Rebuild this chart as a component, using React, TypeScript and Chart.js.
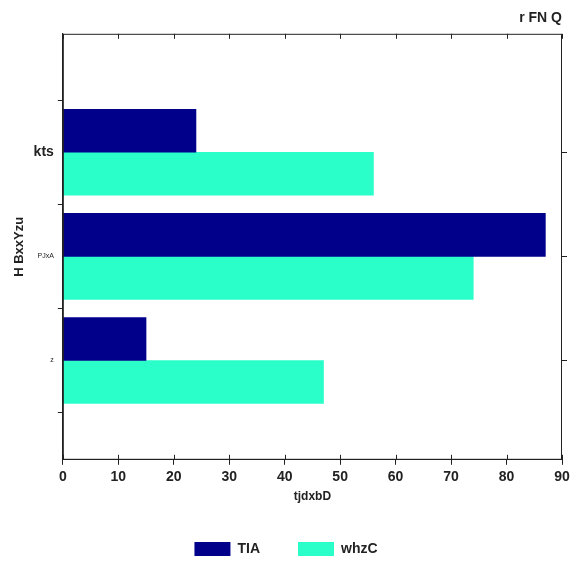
import React, { useEffect, useRef } from "react";
import { Chart, registerables } from "chart.js";
Chart.register(...registerables);

const categories = ["kts", "PJxA", "z"];
const tiaValues = [24, 87, 15];
const whzcValues = [56, 74, 47];
const tickSizes = [14, 7, 7];
const positions = [2, 1, 0];

const FONT = "'Liberation Sans', Arial, sans-serif";

const edgeTicks = {
  id: "edgeTicks",
  afterDraw(chart: any) {
    const { ctx, chartArea: a, scales } = chart;
    ctx.save();
    ctx.strokeStyle = "#222";
    ctx.lineWidth = 1;
    ctx.strokeRect(a.left + 0.5, a.top + 0.5, a.right - a.left - 1, a.bottom - a.top - 1);
    ctx.beginPath();
    scales.x.ticks.forEach((t: any, i: number) => {
      const px = Math.round(scales.x.getPixelForTick(i)) + 0.5;
      ctx.moveTo(px, a.top);
      ctx.lineTo(px, a.top + 5);
      ctx.moveTo(px, a.bottom);
      ctx.lineTo(px, a.bottom - 5);
    });
    scales.y.ticks.forEach((t: any, i: number) => {
      const py = Math.round(scales.y.getPixelForTick(i)) + 0.5;
      ctx.moveTo(a.right, py);
      ctx.lineTo(a.right + 5, py);
    });
    ctx.stroke();
    ctx.restore();
  },
};

export default function App() {
  const ref = useRef<HTMLCanvasElement>(null);
  useEffect(() => {
    document.body.style.margin = "0";
    const catFor = (v: number) => positions.indexOf(Math.round(v));
    const chart = new Chart(ref.current!, {
      type: "bar",
      data: {
        datasets: [
          { label: "TIA", data: categories.map((c, i) => ({ x: tiaValues[i], y: positions[i] })), backgroundColor: "#00008b", barThickness: 43 },
          { label: "whzC", data: categories.map((c, i) => ({ x: whzcValues[i], y: positions[i] })), backgroundColor: "#2affca", barThickness: 43 },
        ],
      },
      plugins: [edgeTicks],
      options: {
        indexAxis: "y",
        animation: false,
        responsive: false,
        layout: { padding: { right: 22, left: 10, bottom: 18 } },
        plugins: {
          title: { display: true, text: "r FN Q", align: "end", color: "#222", font: { family: FONT, size: 14, weight: "bold" }, padding: { top: 10, bottom: 7 } },
          legend: {
            position: "bottom",
            labels: { boxWidth: 36, boxHeight: 14, padding: 38, color: "#222", font: { family: FONT, size: 14, weight: "bold" } },
          },
          tooltip: { enabled: false },
        },
        scales: {
          x: {
            type: "linear",
            min: 0, max: 90,
            ticks: { stepSize: 10, color: "#222", font: { family: FONT, size: 14, weight: "bold" }, padding: 4 },
            grid: { drawOnChartArea: false, tickLength: 5, tickColor: "#222" },
            border: { color: "#222" },
            title: { display: true, text: "tjdxbD", color: "#222", font: { family: FONT, size: 12, weight: "bold" }, padding: 0 },
          },
          y: {
            type: "linear",
            min: -0.272,
            max: 2.456,
            afterBuildTicks: (s: any) => { s.ticks = positions.slice().reverse().map((v) => ({ value: v })); },
            ticks: {
              color: "#222",
              callback: (v: any) => categories[catFor(Number(v))],
              font: (c: any) => {
                const k = catFor(c.tick ? c.tick.value : 0);
                return { family: FONT, size: tickSizes[k] ?? 7, weight: k === 0 ? "bold" : "normal" };
              },
              padding: 4,
            },
            grid: { drawOnChartArea: false, tickLength: 5, tickColor: "#222" },
            border: { color: "#222" },
            title: { display: true, text: "H BxxYzu", color: "#222", font: { family: FONT, size: 13, weight: "bold" }, padding: 2 },
          },
        },
      },
    });
    return () => chart.destroy();
  }, []);
  return <canvas ref={ref} width={584} height={584} style={{ display: "block" }} />;
}
